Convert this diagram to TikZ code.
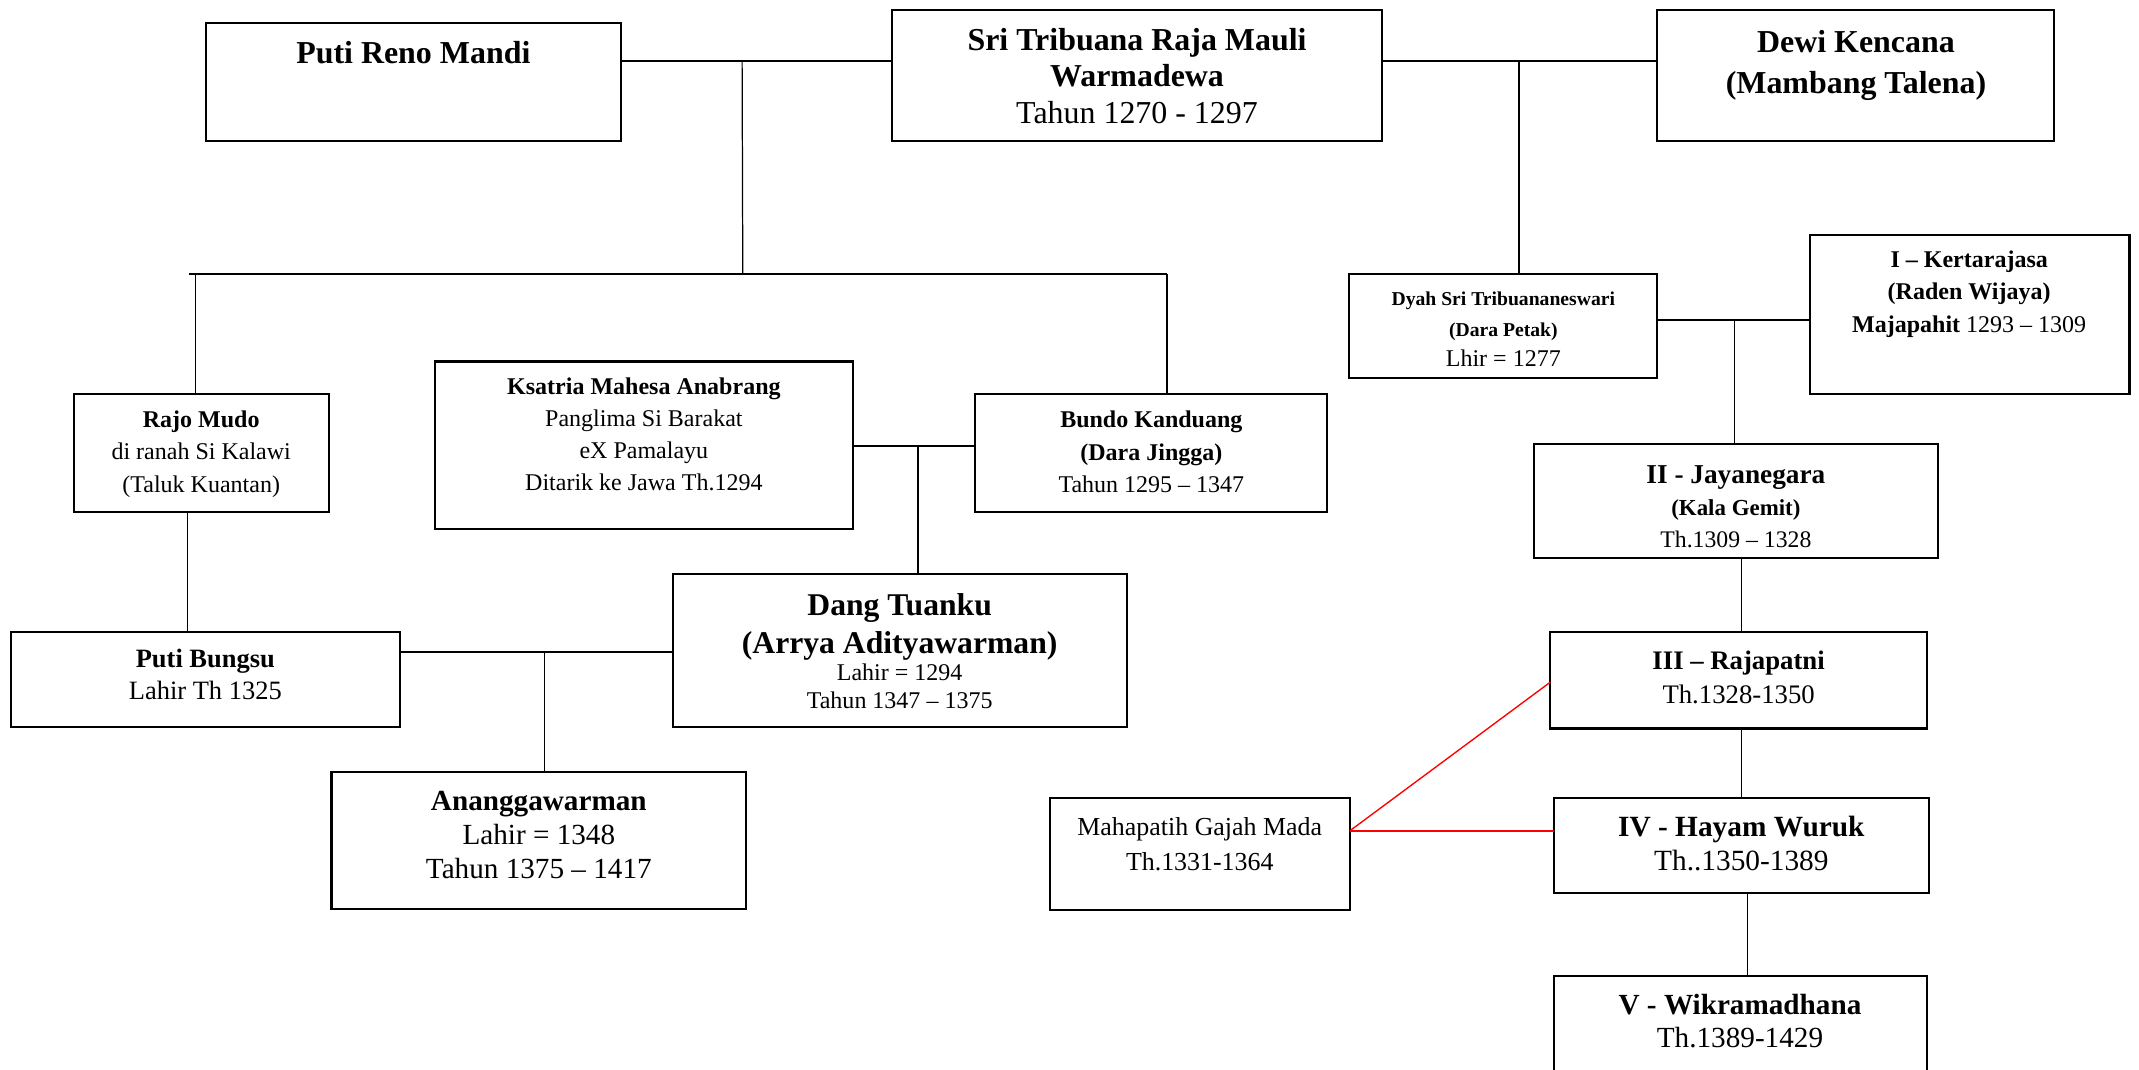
\documentclass[tikz,border=0pt]{standalone}
\usepackage{fontspec}
\setmainfont{Liberation Serif}
\newcommand\mybox[5]{\node[box, minimum width={(#4-#2)*0.5pt}, minimum height={(#5-#3)*0.5pt}] (#1) at ({(#2+#4)/2},{(#3+#5)/2}) {};}
\tikzset{
  box/.style={draw, line width=0.75pt, inner sep=0pt, outer sep=0pt},
  txt/.style={align=center, inner sep=0pt, anchor=base},
  couple/.style={line width=0.7pt},
  child/.style={line width=0.45pt},
  redline/.style={red, line width=0.5pt},
  redthick/.style={red, line width=0.75pt},
}
\begin{document}
\begin{tikzpicture}[x=0.5pt,y=-0.5pt]
\useasboundingbox (0,0) rectangle (1568,784);
% boxes
\mybox{reno}{151}{17}{455}{103}
\mybox{sri}{654}{7}{1013}{103}
\mybox{dewi}{1215}{7}{1506}{103}
\mybox{dyah}{989}{201}{1215}{277}
\mybox{kerta}{1327}{172}{1561}{289}
\mybox{rajo}{54}{289}{241}{375}
\mybox{ksatria}{319}{265}{625}{388}
\mybox{bundo}{715}{289}{973}{375}
\mybox{jaya}{1124.5}{325.5}{1420.5}{409}
\mybox{bungsu}{8}{463}{293}{533}
\mybox{dang}{493}{421}{826}{533}
\mybox{rajap}{1136.5}{463}{1412.5}{534}
\mybox{anangga}{243}{566}{547}{666}
\mybox{gajah}{770}{585}{989.5}{667}
\mybox{hayam}{1139}{585}{1414}{654.5}
\mybox{wik}{1139}{715.5}{1412.5}{800}
% texts (anchor base = baseline of last line)
\node[txt, font=\fontsize{11.7}{13.4}\selectfont\bfseries] (reno-t) at (303,46.4) {Puti Reno Mandi};
\node[txt, font=\fontsize{11.7}{13.4}\selectfont] (sri-t) at (833.5,90.4) {\textbf{Sri Tribuana Raja Mauli}\\ \textbf{Warmadewa}\\ Tahun 1270 - 1297};
\node[txt, font=\fontsize{11.7}{14.8}\selectfont\bfseries] (dewi-t) at (1360.5,68.4) {Dewi Kencana\\ (Mambang Talena)};
\node[txt, font=\fontsize{7.2}{11.2}\selectfont] (dyah-t) at (1102,269) {\textbf{Dyah Sri Tribuananeswari}\\ \textbf{(Dara Petak)}\\ {\fontsize{8.8}{11.2}\selectfont Lhir = 1277}};
\node[txt, font=\fontsize{8.8}{11.8}\selectfont] (kerta-t) at (1443.5,243.5) {\textbf{I – Kertarajasa}\\ \textbf{(Raden Wijaya)}\\ \textbf{Majapahit} 1293 – 1309};
\node[txt, font=\fontsize{8.8}{11.9}\selectfont] (rajo-t) at (147.5,360.7) {\textbf{Rajo Mudo}\\ di ranah Si Kalawi\\ (Taluk Kuantan)};
\node[txt, font=\fontsize{8.8}{11.75}\selectfont] (ksatria-t) at (472,359.5) {\textbf{Ksatria Mahesa Anabrang}\\ Panglima Si Barakat\\ eX Pamalayu\\ Ditarik ke Jawa Th.1294};
\node[txt, font=\fontsize{8.8}{11.9}\selectfont] (bundo-t) at (844,361) {\textbf{Bundo Kanduang}\\ \textbf{(Dara Jingga)}\\ Tahun 1295 – 1347};
\node[txt, font=\fontsize{10}{11.7}\selectfont] (jaya-t) at (1272.5,401) {\textbf{II - Jayanegara}\\ {\fontsize{8.4}{11.4}\selectfont\bfseries (Kala Gemit)}\\ {\fontsize{8.7}{11.4}\selectfont Th.1309 – 1328}};
\node[txt, font=\fontsize{9.7}{11.6}\selectfont] (bungsu-t) at (150.5,512.4) {\textbf{Puti Bungsu}\\ Lahir Th 1325};
\node[txt, font=\fontsize{11.6}{14}\selectfont] (dang-t) at (659.5,519.5) {\textbf{Dang Tuanku}\\[-0.35pt] {\bfseries (Arrya Adityawarman)}\\[-4pt] {\fontsize{8.8}{10}\selectfont Lahir = 1294}\\[-3.6pt] {\fontsize{8.8}{10}\selectfont Tahun 1347 – 1375}};
\node[txt, font=\fontsize{9.8}{12.5}\selectfont] (rajap-t) at (1274.5,515.8) {\textbf{III – Rajapatni}\\ Th.1328-1350};
\node[txt, font=\fontsize{10.7}{12.4}\selectfont] (anangga-t) at (395,643.9) {\textbf{Ananggawarman}\\ Lahir = 1348\\ Tahun 1375 – 1417};
\node[txt, font=\fontsize{9.5}{12.95}\selectfont] (gajah-t) at (879.5,638.4) {Mahapatih Gajah Mada\\ Th.1331-1364};
\node[txt, font=\fontsize{10.75}{12.45}\selectfont] (hayam-t) at (1276.5,638.4) {\textbf{IV - Hayam Wuruk}\\ Th..1350-1389};
\node[txt, font=\fontsize{10.7}{12.2}\selectfont] (wik-t) at (1275.5,767.8) {\textbf{V - Wikramadhana}\\ Th.1389-1429};
% connectors
\coordinate (m1) at (544,44.7);
\coordinate (b1) at (544.5,200.9);
\coordinate (bl) at (138.5,200.9);
\coordinate (br) at (855.5,200.9);
\coordinate (k1) at (143.5,200.9);
\draw[couple] (reno.east|-m1) -- (sri.west|-m1);
\draw[child] (m1) -- (b1);
\draw[couple] (bl) -- (br);
\draw[child] (k1) -- (k1|-rajo.north);
\draw[child] (br) -- (br|-bundo.north);
\coordinate (m2) at (1113.5,44.7);
\draw[couple] (sri.east|-m2) -- (dewi.west|-m2);
\draw[child] (m2) -- (m2|-dyah.north);
\coordinate (m3) at (1271.5,234.6);
\draw[couple] (dyah.east|-m3) -- (kerta.west|-m3);
\draw[child] (m3) -- (m3|-jaya.north);
\coordinate (v1) at (1276.7,0);
\draw[child] (v1|-jaya.south) -- (v1|-rajap.north);
\draw[child] (v1|-rajap.south) -- (v1|-hayam.north);
\coordinate (v2) at (1281,0);
\draw[child] (v2|-hayam.south) -- (v2|-wik.north);
\coordinate (m4) at (673,327);
\draw[couple] (ksatria.east|-m4) -- (bundo.west|-m4);
\draw[child] (m4) -- (m4|-dang.north);
\coordinate (v4) at (137.6,0);
\draw[child] (v4|-rajo.south) -- (v4|-bungsu.north);
\coordinate (m5) at (399,478);
\draw[couple] (bungsu.east|-m5) -- (dang.west|-m5);
\draw[child] (m5) -- (m5|-anangga.north);
\coordinate (yr) at (0,609);
\coordinate (yr2) at (0,500);
\draw[redline] (gajah.east|-yr) -- (rajap.west|-yr2);
\draw[redthick] (gajah.east|-yr) -- (hayam.west|-yr);
\end{tikzpicture}
\end{document}
